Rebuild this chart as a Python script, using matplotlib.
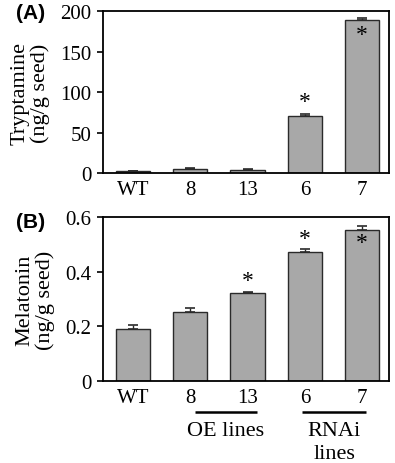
import numpy as np
import matplotlib
matplotlib.use('Agg')
import matplotlib.pyplot as plt
import matplotlib.transforms as mtransforms

plt.rcParams['font.family'] = 'serif'
plt.rcParams['font.serif'] = ['Liberation Serif', 'DejaVu Serif']

lines = ['WT', '8', '13', '6', '7']
tryptamine = [2.5, 5, 4, 70.5, 188.5]
tryptamine_err = [0.5, 0.8, 0.8, 1.8, 2.5]
melatonin = [0.19, 0.254, 0.322, 0.472, 0.551]
melatonin_err = [0.014, 0.013, 0.005, 0.011, 0.018]
star_a = [None, None, None, 'above', 'inside']
star_b = [None, None, 'above', 'above', 'inside']

group_names = ['OE lines', 'RNAi\nlines']
group_start = [1.08, 2.95]
group_end = [2.16, 4.07]

bar_color = '#a8a8a8'
x = np.arange(len(lines))

fig = plt.figure(figsize=(3.95, 4.64), dpi=100)
axA = fig.add_axes([0.261, 0.625, 0.724, 0.349])
axB = fig.add_axes([0.261, 0.177, 0.724, 0.353])


def draw_panel(ax, vals, errs, stars, ymax, yticks, ticklabels, ylabel, tag, tag_y, star_gap):
    ax.bar(x, vals, width=0.6, color=bar_color, edgecolor='#2a2a2a', linewidth=1.0, zorder=2)
    ax.errorbar(x, vals, yerr=[np.zeros(len(vals)), errs], fmt='none', ecolor='#2a2a2a',
                elinewidth=1.0, capsize=3.5, capthick=1.2, zorder=3)
    for i, s in enumerate(stars):
        if s == 'above':
            ax.text(x[i], vals[i] + errs[i] + star_gap, '*', ha='center', va='center', fontsize=17)
        elif s == 'inside':
            ax.text(x[i], vals[i] - star_gap * 1.1, '*', ha='center', va='center', fontsize=17)
    ax.set_xlim(-0.52, 4.47)
    ax.set_ylim(0, ymax)
    ax.set_yticks(yticks)
    ax.set_yticklabels(ticklabels, fontsize=15)
    ax.set_xticks(x)
    ax.set_xticklabels(lines, fontsize=15)
    ax.tick_params(axis='x', length=0, pad=5)
    ax.tick_params(axis='y', direction='out', length=4.5, width=1.2, pad=4)
    for sp in ax.spines.values():
        sp.set_linewidth(1.3)
    ax.set_ylabel(ylabel, fontsize=16, linespacing=1.1, labelpad=7)
    ax.text(-0.305, tag_y, tag, transform=ax.transAxes, fontsize=15, fontweight='bold',
            family='Liberation Sans', ha='left', va='center')


draw_panel(axA, tryptamine, tryptamine_err, star_a, 200, [0, 50, 100, 150, 200],
           ['0', '50', '100', '150', '200'], 'Tryptamine\n(ng/g seed)', '(A)', 0.99, 16)
draw_panel(axB, melatonin, melatonin_err, star_b, 0.6, [0, 0.2, 0.4, 0.6],
           ['0', '0.2', '0.4', '0.6'], 'Melatonin\n(ng/g seed)', '(B)', 0.97, 0.04)

# group labels under panel B
trans = mtransforms.blended_transform_factory(axB.transData, axB.transAxes)
for name, a, b in zip(group_names, group_start, group_end):
    axB.plot([a, b], [-0.189, -0.189], color='black', lw=1.8,
             transform=trans, clip_on=False, solid_capstyle='butt')
    axB.text((a + b) / 2, -0.245, name, transform=trans, ha='center', va='top',
             fontsize=16, linespacing=1.25)

fig.savefig('out.png', dpi=100)
